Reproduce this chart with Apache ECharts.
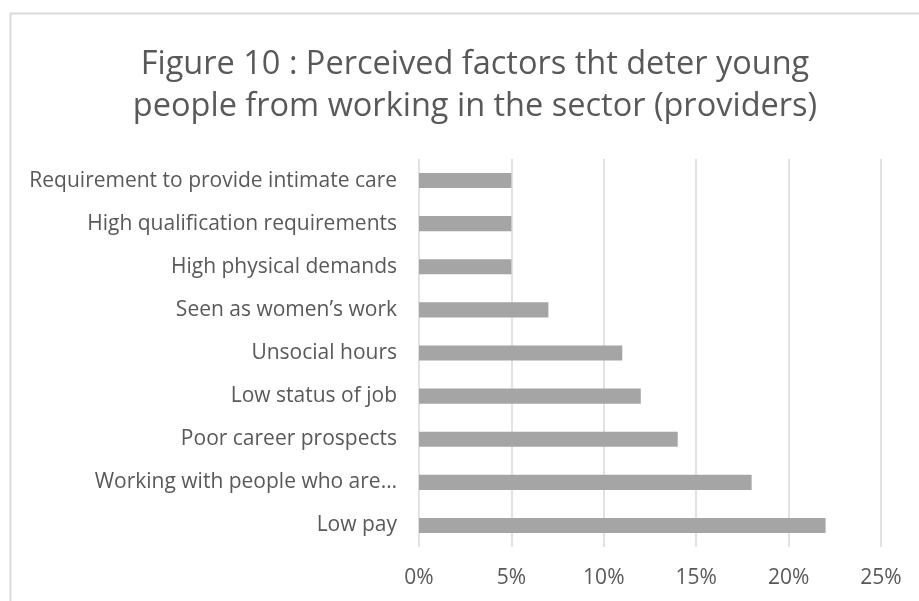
<!DOCTYPE html>
<html>
<head>
<meta charset="utf-8">
<script src="https://cdn.jsdelivr.net/npm/echarts@6/dist/echarts.min.js"></script>
<style>
  html, body { margin: 0; padding: 0; background: #fff; }
  #chart { width: 919px; height: 601px; }
</style>
</head>
<body>
<div id="chart"></div>
<script>
// bottom to top, as ECharts draws a category y axis
const categories = [
  "Low pay",
  "Working with people who are…",
  "Poor career prospects",
  "Low status of job",
  "Unsocial hours",
  "Seen as women’s work",
  "High physical demands",
  "High qualification requirements",
  "Requirement to provide intimate care",
];
const shares = [22, 18, 14, 12, 11, 7, 5, 5, 5];
const tickLabels = ["0%", "5%", "10%", "15%", "20%", "25%"];

const colors = {
  bar: "#a5a5a5",
  text: "#595959",
  grid: "#d9d9d9",
};

const chart = echarts.init(document.getElementById("chart"));

chart.setOption({
  animation: false,
  textStyle: { fontFamily: "Open Sans" },
  graphic: [
    {
      type: "rect",
      shape: { x: 10.5, y: 13.5, width: 930, height: 620 },
      style: { fill: "none", stroke: colors.grid, lineWidth: 2 },
      silent: true,
    },
  ],
  title: {
    text: "Figure 10 : Perceived factors tht deter young\npeople from working in the sector (providers)",
    left: 470,
    top: 39,
    textAlign: "center",
    textStyle: {
      color: colors.text,
      fontSize: 32.5,
      fontWeight: "normal",
      lineHeight: 42,
      fontFamily: "Open Sans",
    },
  },
  grid: {
    left: 419,
    right: 38,
    top: 159,
    bottom: 54,
  },
  xAxis: {
    type: "value",
    min: 0,
    max: 25,
    interval: 5,
    axisLine: { show: false },
    axisTick: { show: false },
    splitLine: { lineStyle: { color: colors.grid, width: 1.5 } },
    axisLabel: {
      color: colors.text,
      fontSize: 21,
      margin: 21,
      formatter: (v) => tickLabels[v / 5],
    },
  },
  yAxis: {
    type: "category",
    data: categories,
    axisLine: { show: false },
    axisTick: { show: false },
    axisLabel: {
      color: colors.text,
      fontSize: 21,
      margin: 22,
    },
  },
  series: [
    {
      type: "bar",
      data: shares,
      barWidth: "35%",
      itemStyle: { color: colors.bar },
    },
  ],
});
</script>
</body>
</html>
